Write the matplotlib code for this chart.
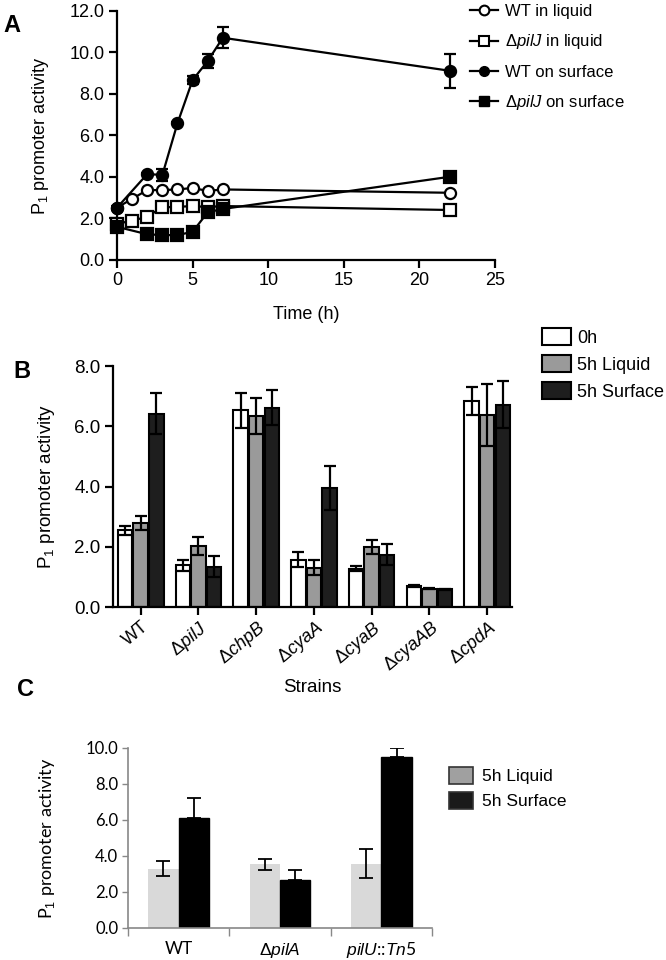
import numpy as np
import matplotlib
matplotlib.use('Agg')
import matplotlib.pyplot as plt
from matplotlib.lines import Line2D
from matplotlib.patches import Patch

plt.rcParams['font.family'] = ['Liberation Sans', 'DejaVu Sans']
plt.rcParams['mathtext.fontset'] = 'custom'
plt.rcParams['mathtext.rm'] = 'Liberation Sans'
plt.rcParams['mathtext.it'] = 'Liberation Sans:italic'

# panel A: time course
t_liq = [0, 1, 2, 3, 4, 5, 6, 7, 22]
wt_liq = [2.52, 2.95, 3.37, 3.37, 3.40, 3.47, 3.33, 3.40, 3.24]
pilj_liq = [1.75, 1.89, 2.09, 2.54, 2.56, 2.60, 2.55, 2.60, 2.41]
t_surf = [0, 2, 3, 4, 5, 6, 7, 22]
wt_surf = [2.52, 4.14, 4.10, 6.59, 8.67, 9.59, 10.71, 9.12]
wt_surf_err = [0.1, 0.05, 0.3, 0.05, 0.2, 0.35, 0.5, 0.82]
pilj_surf = [1.60, 1.24, 1.20, 1.20, 1.36, 2.30, 2.46, 4.01]
pilj_surf_err = [0.1, 0.05, 0.05, 0.05, 0.05, 0.05, 0.1, 0.15]

# panel B: strains
strains_b = ['WT', r'$\Delta\mathit{pilJ}$', r'$\Delta\mathit{chpB}$', r'$\Delta\mathit{cyaA}$',
             r'$\Delta\mathit{cyaB}$', r'$\Delta\mathit{cyaAB}$', r'$\Delta\mathit{cpdA}$']
b_0h = [2.55, 1.38, 6.53, 1.57, 1.27, 0.69, 6.83]
b_0h_err = [0.15, 0.17, 0.59, 0.25, 0.08, 0.03, 0.46]
b_liq = [2.79, 2.02, 6.35, 1.31, 1.99, 0.61, 6.37]
b_liq_err = [0.23, 0.30, 0.60, 0.25, 0.22, 0.02, 1.02]
b_surf = [6.42, 1.33, 6.62, 3.95, 1.74, 0.59, 6.72]
b_surf_err = [0.69, 0.35, 0.59, 0.72, 0.35, 0.02, 0.77]

# panel C
strains_c = ['WT', r'$\Delta\mathit{pilA}$', r'$\mathit{pilU}$::$\mathit{Tn}$5']
c_liq = [3.29, 3.53, 3.57]
c_liq_err = [0.41, 0.32, 0.80]
c_surf = [6.12, 2.65, 9.50]
c_surf_err = [1.10, 0.55, 0.50]

W, H = 666, 960
fig = plt.figure(figsize=(W / 100, H / 100), dpi=100)

def box(l, r, t, b):
    return [l / W, 1 - b / H, (r - l) / W, (b - t) / H]

ylab = r'P$_1$ promoter activity'

# ---------------- A ----------------
axA = fig.add_axes(box(117, 495, 11, 260))
mk = dict(color='black', lw=1.6, ms=8, mew=1.6, clip_on=False)
axA.plot(t_liq, wt_liq, marker='o', mfc='white', mec='black', **mk)
axA.plot(t_liq, pilj_liq, marker='s', mfc='white', mec='black', **mk)
axA.errorbar(t_surf, wt_surf, yerr=wt_surf_err, marker='o', mfc='black', capsize=4,
             elinewidth=1.6, capthick=1.6, **mk)
axA.errorbar(t_surf, pilj_surf, yerr=pilj_surf_err, marker='s', mfc='black', capsize=4,
             elinewidth=1.6, capthick=1.6, **mk)
axA.set_xlim(0, 25)
axA.set_ylim(0, 12)
axA.set_xticks([0, 5, 10, 15, 20, 25])
axA.set_yticks(np.arange(0, 12.1, 2))
axA.yaxis.set_major_formatter(matplotlib.ticker.FormatStrFormatter('%.1f'))
for s in ['top', 'right']:
    axA.spines[s].set_visible(False)
for s in ['left', 'bottom']:
    axA.spines[s].set_linewidth(1.6)
axA.tick_params(width=1.6, length=6, labelsize=13, pad=3)
axA.set_xlabel('Time (h)', fontsize=13, labelpad=12)
axA.set_ylabel(ylab, fontsize=13)
axA.yaxis.set_label_coords(-0.175, 0.5)
handles = [
    Line2D([], [], color='black', lw=1.6, marker='o', mfc='white', mec='black', ms=7, mew=1.5),
    Line2D([], [], color='black', lw=1.6, marker='s', mfc='white', mec='black', ms=7, mew=1.5),
    Line2D([], [], color='black', lw=1.6, marker='o', mfc='black', mec='black', ms=7),
    Line2D([], [], color='black', lw=1.6, marker='s', mfc='black', mec='black', ms=7),
]
labels = ['WT in liquid', r'$\Delta\mathit{pilJ}$ in liquid', 'WT on surface',
          r'$\Delta\mathit{pilJ}$ on surface']
fig.legend(handles, labels, loc='upper left', bbox_to_anchor=(470 / W, 1 - 4 / H),
           frameon=False, fontsize=12, handlelength=1.7, handletextpad=0.4,
           labelspacing=0.8, borderpad=0, borderaxespad=0)

# ---------------- B ----------------
axB = fig.add_axes(box(113, 512, 366, 607))
x = np.arange(len(strains_b))
off, bw = 0.27, 0.25
ekw = dict(elinewidth=1.6, capthick=1.6, capsize=4, ecolor='black')
axB.bar(x - off, b_0h, bw, color='white', edgecolor='black', lw=1.5, yerr=b_0h_err,
        error_kw=ekw, label='0h')
axB.bar(x, b_liq, bw, color='#9a9a9a', edgecolor='black', lw=1.5, yerr=b_liq_err,
        error_kw=ekw, label='5h Liquid')
axB.bar(x + off, b_surf, bw, color='#1e1e1e', edgecolor='black', lw=1.5, yerr=b_surf_err,
        error_kw=ekw, label='5h Surface')
axB.set_xlim(-0.48, 6.43)
axB.set_ylim(0, 8)
axB.set_yticks([0, 2, 4, 6, 8])
axB.yaxis.set_major_formatter(matplotlib.ticker.FormatStrFormatter('%.1f'))
axB.set_xticks(x)
axB.set_xticklabels(strains_b, rotation=40, ha='right', rotation_mode='anchor', fontsize=13)
for s in ['top', 'right']:
    axB.spines[s].set_visible(False)
for s in ['left', 'bottom']:
    axB.spines[s].set_linewidth(1.6)
axB.tick_params(width=1.6, length=6, labelsize=13.5, pad=3)
axB.tick_params(axis='x', labelsize=13, pad=2)
axB.set_xlabel('Strains', fontsize=13.5, labelpad=2)
axB.set_ylabel(ylab, fontsize=13.5)
axB.yaxis.set_label_coords(-0.14, 0.5)
fig.legend(*axB.get_legend_handles_labels(), loc='upper left',
           bbox_to_anchor=(542 / W, 1 - 328 / H), frameon=False, fontsize=13,
           handlelength=1.6, handleheight=1.1, handletextpad=0.35, labelspacing=0.45,
           borderpad=0, borderaxespad=0)

# ---------------- C ----------------
axC = fig.add_axes(box(128, 432, 748, 928))
xc = np.arange(len(strains_c))
cw = 0.3
axC.bar(xc - cw / 2, c_liq, cw, color='#d9d9d9', yerr=c_liq_err,
        error_kw=dict(elinewidth=1.3, capthick=1.3, capsize=5, ecolor='black'))
axC.bar(xc + cw / 2, c_surf, cw, color='black', edgecolor='black',
        yerr=[np.zeros(len(c_surf)), c_surf_err],
        error_kw=dict(elinewidth=1.3, capthick=1.3, capsize=5, ecolor='black'))
axC.set_xlim(-0.5, 2.5)
axC.set_ylim(0, 10)
axC.set_yticks([0, 2, 4, 6, 8, 10])
axC.yaxis.set_major_formatter(matplotlib.ticker.FormatStrFormatter('%.1f'))
axC.set_xticks(xc)
axC.set_xticklabels(strains_c, fontsize=12.5, family=['Lato', 'DejaVu Sans'])
axC.set_xticks([-0.5, 0.5, 1.5, 2.5], minor=True)
axC.tick_params(axis='x', which='major', length=0, pad=9)
axC.tick_params(axis='x', which='minor', length=6, width=1, color='#888888')
axC.tick_params(axis='y', length=4, width=1, color='#888888', labelsize=12, pad=3)
for lb in axC.get_yticklabels():
    lb.set_family(['Lato', 'DejaVu Sans'])
for s in ['top', 'right']:
    axC.spines[s].set_visible(False)
for s in ['left', 'bottom']:
    axC.spines[s].set_color('#888888')
    axC.spines[s].set_linewidth(1.2)
axC.set_ylabel(ylab, fontsize=13, family=['Lato', 'DejaVu Sans'])
axC.yaxis.set_label_coords(-0.235, 0.5)
legC = [Patch(facecolor='#a0a0a0', edgecolor='#333333', lw=1.2),
        Patch(facecolor='#1a1a1a', edgecolor='#333333', lw=1.2)]
fig.legend(legC, ['5h Liquid', '5h Surface'], loc='upper left',
           bbox_to_anchor=(449 / W, 1 - 767 / H), frameon=False, fontsize=12.5,
           handlelength=1.4, handleheight=1.1, handletextpad=0.5, labelspacing=0.45,
           borderpad=0, borderaxespad=0)

# panel letters
fig.text(3 / W, 1 - 25 / H, 'A', fontsize=17, fontweight='bold', va='center')
fig.text(13 / W, 1 - 372 / H, 'B', fontsize=17, fontweight='bold', va='center')
fig.text(17 / W, 1 - 690 / H, 'C', fontsize=17, fontweight='bold', va='center')

fig.savefig('out.png', dpi=100)
